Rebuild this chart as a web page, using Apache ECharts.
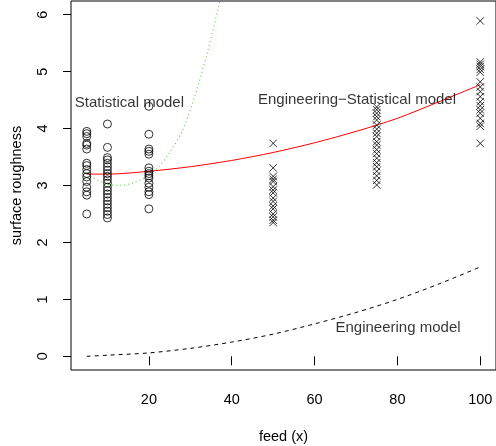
<!DOCTYPE html>
<html>
<head>
<meta charset="utf-8">
<script src="https://cdn.jsdelivr.net/npm/echarts@6/dist/echarts.min.js"></script>
<style>html,body{margin:0;padding:0;background:#fff}#c{width:496px;height:446px}</style>
</head>
<body>
<div id="c"></div>
<script>
// ---- data ----
var xTicks = [20, 40, 60, 80, 100];
var yTicks = [0, 1, 2, 3, 4, 5, 6];

// observations (circles: statistical region; crosses: engineering region)
var feed5  = [3.95, 3.91, 3.86, 3.74, 3.71, 3.64, 3.39, 3.35, 3.28, 3.21, 3.15, 3.07, 2.97, 2.89, 2.83, 2.50];
var feed10 = [4.08, 3.67, 3.49, 3.45, 3.39, 3.33, 3.27, 3.21, 3.16, 3.10, 3.04, 2.97, 2.91, 2.85, 2.79, 2.73, 2.67, 2.61, 2.55, 2.49, 2.43];
var feed20 = [4.39, 3.90, 3.64, 3.60, 3.55, 3.31, 3.25, 3.21, 3.17, 3.13, 3.04, 2.97, 2.89, 2.84, 2.59];
var feed50 = [3.74, 3.31, 3.16, 3.11, 3.07, 2.98, 2.92, 2.87, 2.78, 2.72, 2.64, 2.59, 2.50, 2.45, 2.39, 2.35];
var feed75 = [4.38, 4.33, 4.27, 4.21, 4.15, 4.06, 3.99, 3.92, 3.86, 3.77, 3.71, 3.63, 3.56, 3.48, 3.40, 3.33, 3.25, 3.17, 3.09, 3.01];
var feed100 = [5.89, 5.17, 5.13, 5.09, 5.04, 4.99, 4.82, 4.73, 4.65, 4.56, 4.47, 4.40, 4.33, 4.27, 4.18, 4.09, 4.04, 3.74];

// model curves
var curveX      = [5, 10, 20, 30, 40, 50, 60, 70, 80, 90, 100];
var engStatY    = [3.20, 3.20, 3.25, 3.33, 3.44, 3.58, 3.75, 3.95, 4.18, 4.47, 4.77];
var engY        = [0.00, 0.02, 0.06, 0.14, 0.25, 0.39, 0.57, 0.77, 1.00, 1.27, 1.57];
var statX       = [5, 8, 10, 13, 16, 19, 22, 25, 28, 31, 34, 37, 38];
var statY       = [3.20, 3.08, 3.02, 3.00, 3.04, 3.14, 3.30, 3.58, 3.95, 4.55, 5.30, 6.20, 6.55];

function pts(x, arr) { return arr.map(function (v) { return [x, v]; }); }
function zip(xs, ys) { return xs.map(function (x, i) { return [x, ys[i]]; }); }

var FONT = 'Liberation Sans';
var chart = echarts.init(document.getElementById('c'), null, {renderer: 'canvas'});
var circleStyle = {color: 'rgba(0,0,0,0)', borderColor: '#000', borderWidth: 1};
var crossPath = 'path://M0,0L10,10M10,0L0,10';

chart.setOption({
  animation: false,
  backgroundColor: '#fff',
  grid: {left: 71, right: 0, top: 1, bottom: 76, show: true, borderColor: '#000', borderWidth: 1,
         backgroundColor: 'transparent', containLabel: false, outerBoundsMode: 'none'},
  xAxis: {
    type: 'value', min: 1.2, max: 103.8,
    name: 'feed (x)', nameLocation: 'middle', nameGap: 59,
    nameTextStyle: {fontFamily: FONT, fontSize: 14.5, color: '#000'},
    axisLine: {show: false},
    axisTick: {show: true, length: 9, lineStyle: {color: '#000'}, customValues: xTicks},
    axisLabel: {fontFamily: FONT, fontSize: 14.5, color: '#000', margin: 22, customValues: xTicks},
    splitLine: {show: false}
  },
  yAxis: {
    type: 'value', min: -0.24, max: 6.24,
    name: 'surface roughness', nameLocation: 'middle', nameGap: 47,
    nameTextStyle: {fontFamily: FONT, fontSize: 14.5, color: '#000'},
    axisLine: {show: false},
    axisTick: {show: true, length: 8, lineStyle: {color: '#000'}, customValues: yTicks},
    axisLabel: {fontFamily: FONT, fontSize: 14.5, color: '#000', margin: 21, rotate: 90, customValues: yTicks},
    splitLine: {show: false}
  },
  series: [
    {type: 'line', data: zip(statX, statY), showSymbol: false, smooth: 0.3, clip: true,
     lineStyle: {color: '#61D04F', width: 1.2, type: [1, 3]}, z: 2},
    {type: 'line', data: zip(curveX, engStatY), showSymbol: false, smooth: 0.3, clip: true,
     lineStyle: {color: '#ff0000', width: 1}, z: 2},
    {type: 'line', data: zip(curveX, engY), showSymbol: false, smooth: 0.3, clip: true,
     lineStyle: {color: '#000', width: 1, type: [4, 4]}, z: 2},
    {type: 'scatter', symbol: 'circle', symbolSize: 8, itemStyle: circleStyle,
     data: pts(5, feed5).concat(pts(10, feed10), pts(20, feed20)), z: 3},
    {type: 'scatter', symbol: crossPath, symbolSize: 7.5,
     itemStyle: {color: 'none', borderColor: '#000', borderWidth: 1},
     data: pts(50, feed50).concat(pts(75, feed75), pts(100, feed100)), z: 3},
    {type: 'scatter', symbolSize: 0, silent: true, z: 4,
     label: {show: true, position: 'inside', formatter: '{b}', fontFamily: FONT, fontSize: 15, color: '#000', textBorderWidth: 0},
     data: [
       {name: 'Statistical model', value: [15.3, 4.46]},
       {name: 'Engineering\u2212Statistical model', value: [70.25, 4.50]},
       {name: 'Engineering model', value: [80.15, 0.50]}
     ]}
  ]
});
</script>
</body>
</html>
